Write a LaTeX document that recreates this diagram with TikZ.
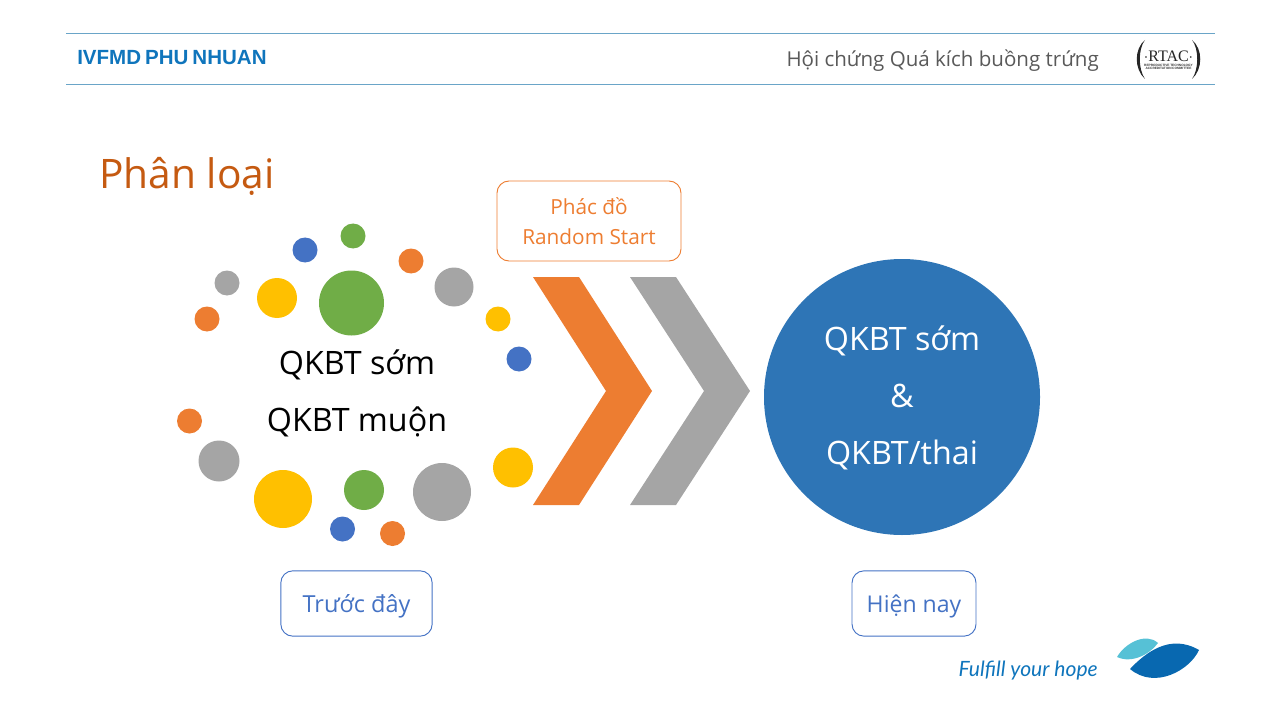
\documentclass[tikz,border=0pt]{standalone}
\usepackage{fontspec}
\setmainfont{Open Sans}
\newfontfamily\headfont[WordSpace=0.7]{Liberation Sans}
\newfontfamily\handfont{Lato}
\newfontfamily\seriffont{Liberation Serif}
\definecolor{dotorange}{HTML}{ED7D31}
\definecolor{dotgray}{HTML}{A5A5A5}
\definecolor{dotyellow}{HTML}{FFC000}
\definecolor{dotblue}{HTML}{4472C4}
\definecolor{dotgreen}{HTML}{70AD47}
\definecolor{bigblue}{HTML}{2E75B6}
\definecolor{headline}{HTML}{6AA5C8}
\definecolor{headblue}{HTML}{0F75BC}
\definecolor{titlebrown}{HTML}{C55A11}
\definecolor{leafdark}{HTML}{0868B0}
\definecolor{leaflight}{HTML}{56C1D6}
\tikzset{
    tagbox/.style={draw, rounded corners=9pt, line width=0.7pt, inner sep=0pt, align=center},
    mainlabel/.style={font=\fontsize{24.2}{42.75}\selectfont, align=center}
}
\begin{document}
\begin{tikzpicture}[x=0.75pt, y=-0.75pt]
    \useasboundingbox (0,0) rectangle (1280,720);

    % header
    \draw[headline, line width=0.7pt] (66,33.8) -- (1215,33.8);
    \draw[headline, line width=0.7pt] (66,84) -- (1215,84);
    \node[font=\headfont\bfseries\fontsize{15.4}{18}\selectfont, headblue, anchor=west, inner sep=0pt] (ivfmd) at (77,58) {IVFMD PHU NHUAN};
    \node[font=\fontsize{15.4}{20}\selectfont, black!65, anchor=east, inner sep=0pt] (chude) at (1099,60.5) {Hội chứng Quá kích buồng trứng};

    % RTAC logo
    \fill[black!85] (1145,40) .. controls (1134,49) and (1134,69) .. (1145,79) .. controls (1138,69) and (1138,49) .. (1145,40) -- cycle;
    \fill[black!85] (1192,40) .. controls (1203,49) and (1203,69) .. (1192,79) .. controls (1199,69) and (1199,49) .. (1192,40) -- cycle;
    \node[font=\seriffont\fontsize{12}{12}\selectfont, black!85, inner sep=0pt] (rtac) at (1168.5,56) {$\cdot$RTAC$\cdot$};
    \node[font=\headfont\bfseries\fontsize{2.4}{2.8}\selectfont, black!80, align=center, inner sep=0pt] (rtacsub) at (1168.5,67) {REPRODUCTIVE TECHNOLOGY\\ACCREDITATION COMMITTEE};

    % title
    \node[font=\fontsize{30.5}{36}\selectfont, titlebrown, anchor=west, inner sep=0pt] (phanloai) at (99,176) {Phân loại};

    % dots, top
    \fill[dotgray] (227,283) circle (12.5);
    \fill[dotorange] (207,319) circle (12.5);
    \fill[dotyellow] (277,298) circle (20);
    \fill[dotblue] (305,250) circle (12.5);
    \fill[dotgreen] (353,236) circle (12.5);
    \fill[dotgreen] (351.5,303) circle (32.5);
    \fill[dotorange] (411,261) circle (12.5);
    \fill[dotgray] (454,287) circle (19.5);
    \fill[dotyellow] (498,319) circle (12.5);
    \fill[dotblue] (519,359) circle (12.5);

    % dots, bottom
    \fill[dotorange] (189.5,421) circle (12.5);
    \fill[dotgray] (219,461) circle (20.5);
    \fill[dotyellow] (283,499) circle (29);
    \fill[dotgreen] (364,490) circle (20);
    \fill[dotgray] (442,492) circle (29);
    \fill[dotyellow] (513,467.5) circle (20);
    \fill[dotblue] (342.5,529) circle (12.5);
    \fill[dotorange] (392.5,533.5) circle (12.5);

    \node[mainlabel, black] (truoc) at (357,393) {QKBT sớm\\QKBT muộn};

    % chevrons
    \fill[dotorange] (533,277) -- (579,277) -- (652,391) -- (579,505) -- (533,505) -- (606,391) -- cycle;
    \fill[dotgray] (630,277) -- (676,277) -- (750,391) -- (676,505) -- (630,505) -- (704,391) -- cycle;

    % big circle
    \node[circle, fill=bigblue, minimum size=207pt, inner sep=0pt] (hientai) at (902,397) {};
    \node[mainlabel, white] (hientaitext) at (902,398) {QKBT sớm\\\&\\QKBT/thai};

    % tags
    \node[tagbox, dotorange, minimum width=138pt, minimum height=60pt, font=\fontsize{15.6}{22}\selectfont, text=dotorange] (phacdo) at (589,221) {Phác đồ\\Random Start};
    \node[tagbox, dotblue, minimum width=113.5pt, minimum height=49pt, font=\fontsize{17.6}{20}\selectfont] (truocday) at (356.5,603.5) {\raisebox{-2.2pt}[\height][\depth]{Trước đây}};
    \node[tagbox, dotblue, minimum width=93pt, minimum height=49pt, font=\fontsize{17.3}{20}\selectfont] (hiennay) at (914,603.5) {\raisebox{-2.2pt}[\height][\depth]{Hiện nay}};

    % slogan and leaves
    \node[font=\handfont\itshape\fontsize{15.8}{18}\selectfont, headblue, anchor=east, inner sep=0pt] (slogan) at (1098,671) {Fulfill your hope};
    \fill[leaflight] (1117,657) .. controls (1125,643) and (1146,632) .. (1158,643) .. controls (1150,654) and (1132,664) .. (1117,657) -- cycle;
    \fill[leafdark] (1130,669) .. controls (1145,653) and (1170,633) .. (1199,650) .. controls (1190,670) and (1155,690) .. (1130,669) -- cycle;
\end{tikzpicture}
\end{document}
